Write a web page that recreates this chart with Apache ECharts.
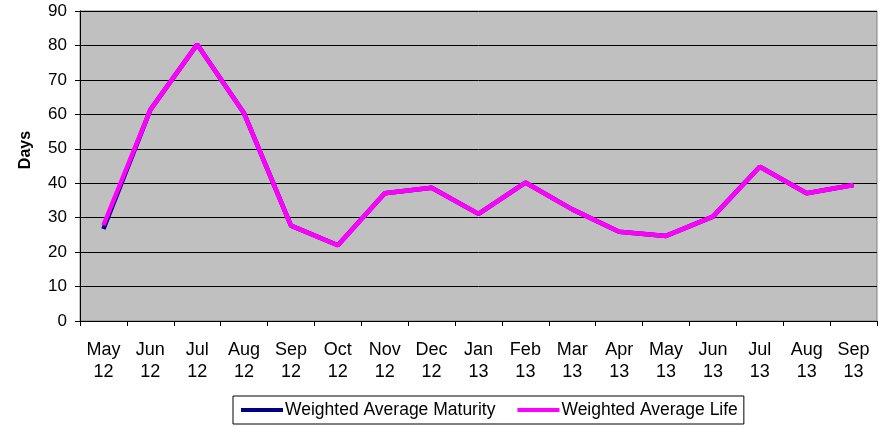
<!DOCTYPE html>
<html>
<head>
<meta charset="utf-8">
<script src="https://cdn.jsdelivr.net/npm/echarts@6/dist/echarts.min.js"></script>
<style>
  html, body { margin: 0; padding: 0; background: #fff; }
  #chart { width: 890px; height: 427px; }
</style>
</head>
<body>
<div id="chart"></div>
<script>
// month labels (two lines: month / year)
const months = ["May\n12", "Jun\n12", "Jul\n12", "Aug\n12", "Sep\n12", "Oct\n12", "Nov\n12", "Dec\n12",
  "Jan\n13", "Feb\n13", "Mar\n13", "Apr\n13", "May\n13", "Jun\n13", "Jul\n13", "Aug\n13", "Sep\n13"];
const maturity = [26.7, 61.3, 80.3, 60.3, 27.7, 22, 37.1, 38.7, 31.1, 40.2, 32.4, 25.9, 24.7, 30.3, 44.8, 37.1, 39.5];
const life = [27.8, 61.3, 80.3, 60.3, 27.7, 22, 37.1, 38.7, 31.1, 40.2, 32.4, 25.9, 24.7, 30.3, 44.8, 37.1, 39.5];

let chart = echarts.init(document.getElementById("chart"));
const font = "Liberation Sans, Arial, sans-serif";

chart.setOption({
  animation: false,
  textStyle: { fontFamily: font },
  grid: {
    left: 80,
    right: 13,
    top: 11,
    bottom: 106,
    show: true,
    backgroundColor: "#C0C0C0",
    borderColor: "#808080",
    borderWidth: 1
  },
  legend: {
    left: 233,
    top: 396,
    data: ["Weighted Average Maturity", "Weighted Average Life"],
    icon: "rect",
    itemWidth: 42,
    itemHeight: 4,
    itemGap: 22,
    padding: [5, 6, 5, 8],
    borderColor: "#000",
    borderWidth: 1,
    textStyle: { fontSize: 17.5, color: "#000", fontFamily: font, padding: [0, 0, 0, -3] }
  },
  xAxis: {
    type: "category",
    data: months,
    boundaryGap: true,
    axisLine: { lineStyle: { color: "#000", width: 1 } },
    axisTick: { show: true, length: 5, lineStyle: { color: "#000" } },
    axisLabel: {
      color: "#000",
      fontSize: 18,
      lineHeight: 22,
      margin: 18,
      interval: 0
    }
  },
  yAxis: {
    type: "value",
    min: 0,
    max: 90,
    interval: 10,
    name: "Days",
    nameLocation: "middle",
    nameGap: 46,
    nameTextStyle: { fontSize: 16, fontWeight: "bold", color: "#000", padding: [0, 0, 0, 32] },
    axisLine: { show: true, lineStyle: { color: "#000" } },
    axisTick: { show: true, length: 5, lineStyle: { color: "#000" } },
    axisLabel: { color: "#000", fontSize: 17, margin: 13 },
    splitLine: { lineStyle: { color: "#000", width: 1 } }
  },
  series: [
    {
      name: "Weighted Average Maturity",
      type: "line",
      data: maturity,
      color: "#000080",
      symbol: "none",
      lineStyle: { width: 4.5, color: "#000080" }
    },
    {
      name: "Weighted Average Life",
      type: "line",
      data: life,
      color: "#FF00FF",
      symbol: "none",
      lineStyle: { width: 4.5, color: "#FF00FF" }
    }
  ]
});
</script>
</body>
</html>
